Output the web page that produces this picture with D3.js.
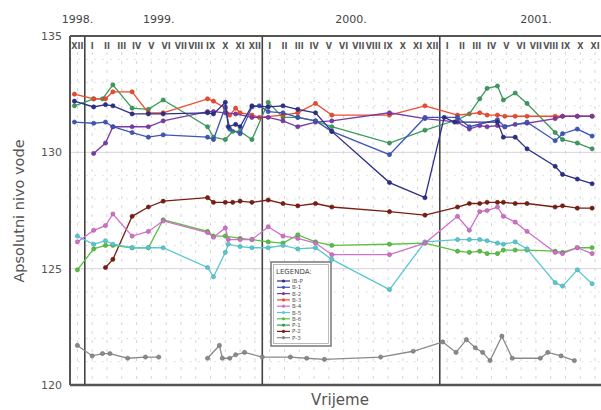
<!DOCTYPE html>
<html><head><meta charset="utf-8">
<script src="https://cdn.jsdelivr.net/npm/d3@7/dist/d3.min.js"></script>
<style>body{margin:0;background:#fff}svg{display:block}text{font-family:"DejaVu Sans",Verdana,sans-serif}</style>
</head><body><svg id="c" width="601" height="410"></svg>
<script>
// time axis: months elapsed since 1 Dec 1998
const years = [{label:"1998.", t:0.5},{label:"1999.", t:6.0},{label:"2000.", t:19.0},{label:"2001.", t:31.5}];
const yearStarts = [1, 13, 25];
const monthLabels = ["XII","I","II","III","IV","V","VI","VII","VIII","IX","X","XI","XII","I","II","III","IV","V","VI","VII","VIII","IX","X","XI","XII","I","II","III","IV","V","VI","VII","VIII","IX","X","XI"];
const yTicks = [120,125,130,135];

const redT = [0.3,1.6,2.4,2.9,4.2,5.3,6.3,9.3,9.7,10.5,10.8,11.2,11.5,12.3,12.8,14.4,15.4,16.6,17.7,21.6,24.0,26.2,27.7,28.2,28.9,29.4,30.1,30.9,32.8,33.3,34.3,35.3];
const redV = [132.5,132.3,132.3,132.6,132.6,131.7,131.7,132.3,132.2,131.9,131.6,131.9,131.7,131.6,131.5,131.6,131.7,132.1,131.6,131.6,132.0,131.6,131.7,131.6,131.6,131.55,131.55,131.55,131.55,131.55,131.55,131.55];

const greenT = [0.3,1.6,2.2,2.9,4.2,5.3,6.3,9.3,9.7,10.5,11.0,11.5,12.3,13.4,14.4,15.4,16.6,17.7,21.6,24.0,26.2,27.0,27.7,28.2,28.9,29.3,30.1,30.9,32.8,33.3,34.3,35.3];
const greenV = [132.0,132.3,132.3,132.9,131.9,131.85,132.25,131.1,130.65,130.55,130.9,130.9,130.55,132.15,131.5,131.5,131.35,131.1,130.4,130.95,131.4,131.65,132.3,132.75,132.85,132.25,132.55,132.1,130.85,130.55,130.4,130.15];

const navyT = [0.3,1.6,2.4,2.9,4.2,5.3,6.3,9.3,9.7,10.5,10.7,11.2,11.5,12.3,13.4,14.4,15.4,16.6,17.7,21.6,24.0,25.3,26.0,28.9,29.3,30.1,30.9,32.8,33.3,34.3,35.3];
const navyV = [132.2,131.95,132.05,132.0,131.65,131.65,131.65,131.7,131.65,132.15,131.1,131.2,131.1,132.0,131.95,132.0,131.85,131.7,130.9,128.7,128.05,131.5,131.3,131.3,130.65,130.65,130.15,129.4,129.05,128.85,128.65];

const blueT = [0.3,1.6,2.4,2.9,4.2,5.3,6.3,9.3,9.7,10.5,10.8,11.5,12.3,12.8,13.4,14.4,15.4,16.6,17.7,21.6,24.0,26.2,27.0,28.9,29.4,30.9,32.8,33.3,34.3,35.3];
const blueV = [131.3,131.25,131.3,131.1,130.85,130.65,130.75,130.65,130.55,131.95,131.0,130.8,131.95,132.0,131.75,131.7,131.5,131.35,130.9,129.9,131.5,131.5,131.1,131.4,131.1,131.3,130.5,130.8,131.0,130.7];

const purpleT = [1.6,2.4,2.9,4.2,5.3,6.3,9.3,9.7,10.5,11.2,12.3,13.4,14.4,15.4,16.6,17.7,21.6,24.0,26.2,27.0,27.7,28.2,28.9,29.4,30.1,30.9,32.8,33.3,34.3,35.3];
const purpleV = [129.95,130.4,131.1,131.1,131.1,131.35,131.75,131.75,131.7,131.65,131.5,131.5,131.35,131.1,131.3,131.35,131.7,131.45,131.3,131.0,131.15,131.1,131.15,131.1,131.2,131.25,131.45,131.55,131.55,131.55];

const brownT = [2.4,2.9,4.2,5.3,6.3,9.3,9.7,10.5,11.0,11.5,12.3,13.4,14.4,15.4,16.6,17.7,21.6,24.0,26.2,27.0,27.7,28.2,28.9,29.3,30.1,30.9,32.8,33.3,34.3,35.3];
const brownV = [125.05,125.4,127.25,127.65,127.9,128.05,127.85,127.85,127.85,127.9,127.85,127.95,127.8,127.7,127.8,127.65,127.45,127.3,127.65,127.8,127.8,127.85,127.85,127.85,127.8,127.8,127.65,127.7,127.6,127.6];

const magentaT = [0.5,1.6,2.4,2.9,4.2,5.3,6.3,9.3,9.7,10.5,10.7,11.5,12.3,13.4,14.4,15.4,16.6,17.7,21.6,24.0,26.2,27.0,27.7,28.2,28.9,29.3,30.1,30.9,32.8,33.3,34.3,35.3];
const magentaV = [126.15,126.65,126.85,127.35,126.4,126.6,127.05,126.55,126.35,126.75,126.25,126.25,126.25,126.8,126.4,126.3,126.1,125.6,125.6,126.1,127.25,126.65,127.45,127.5,127.65,127.25,127.0,126.6,125.7,125.65,125.9,125.65];

const limeT = [0.5,1.6,2.4,2.9,4.2,5.3,6.3,9.3,9.7,10.5,11.5,12.3,13.4,14.4,15.4,16.6,17.7,21.6,24.0,26.2,27.0,27.7,28.2,28.9,29.3,30.1,30.9,32.8,33.3,34.3,35.3];
const limeV = [124.95,125.85,126.0,126.0,125.9,125.9,127.1,126.6,126.4,126.4,126.3,126.25,126.15,126.1,126.45,126.15,126.0,126.05,126.1,125.75,125.7,125.75,125.65,125.65,125.8,125.8,125.8,125.75,125.7,125.9,125.9];

const cyanT = [0.5,1.6,2.4,2.9,4.2,5.3,6.3,9.3,9.7,10.5,10.7,11.5,12.3,13.4,14.4,15.4,16.6,17.7,21.6,24.0,26.2,27.0,27.7,28.2,28.9,29.3,30.1,30.9,32.8,33.3,34.3,35.3];
const cyanV = [126.4,126.05,126.2,126.05,125.9,125.9,125.9,125.05,124.65,125.7,126.05,125.95,125.9,125.9,126.0,125.85,125.9,125.4,124.1,126.15,126.25,126.25,126.25,126.2,126.1,126.05,126.15,125.85,124.4,124.25,124.95,124.35];

const grayT = [0.5,1.5,2.2,2.7,3.9,5.1,6.0,7.5,9.3,10.1,10.3,10.8,11.2,11.8,13.0,14.9,16.0,17.2,21.0,23.2,25.2,26.1,26.8,27.4,27.9,28.4,29.2,29.9,31.8,32.3,33.2,34.1];
const grayV = [121.7,121.25,121.35,121.35,121.15,121.2,121.2,null,121.15,121.7,121.15,121.15,121.3,121.4,121.2,121.2,121.15,121.1,121.2,121.45,121.85,121.4,121.95,121.6,121.4,121.05,122.1,121.15,121.15,121.4,121.25,121.05];

const seriesNames = ["IB-P","B-1","B-2","B-3","B-4","B-5","B-6","P-1","P-2","P-3"];
const series = [
  {name:seriesNames[0], color:"#2c2f86", t:navyT, v:navyV},
  {name:seriesNames[1], color:"#3f56b8", t:blueT, v:blueV},
  {name:seriesNames[2], color:"#7b3aa6", t:purpleT, v:purpleV},
  {name:seriesNames[3], color:"#ee4a2c", t:redT, v:redV},
  {name:seriesNames[4], color:"#d070c8", t:magentaT, v:magentaV},
  {name:seriesNames[5], color:"#58c8d0", t:cyanT, v:cyanV},
  {name:seriesNames[6], color:"#58c040", t:limeT, v:limeV},
  {name:seriesNames[7], color:"#3c9a5c", t:greenT, v:greenV},
  {name:seriesNames[8], color:"#7a1e12", t:brownT, v:brownV},
  {name:seriesNames[9], color:"#8a8a8a", t:grayT, v:grayV}
];

const svg = d3.select("#c");
const L=70, R=601, T=36, B=385;
const x = d3.scaleLinear().domain([0,35.9]).range([L,R]);
const y = d3.scaleLinear().domain([120,135]).range([B,T]);

// grid
const g = svg.append("g");
g.selectAll(".hg").data(d3.range(121,135)).join("line")
  .attr("x1",L).attr("x2",R).attr("y1",d=>y(d)).attr("y2",d=>y(d))
  .attr("stroke",d=>d%5===0?"#dcd0dc":"#e2e2e2").attr("stroke-width",1)
  .attr("stroke-dasharray",d=>d%5===0?null:"2,6");
g.selectAll(".vg").data(d3.range(0,36)).join("line")
  .attr("x1",d=>x(d+0.5)).attr("x2",d=>x(d+0.5)).attr("y1",T+16).attr("y2",B)
  .attr("stroke","#d6d6d6").attr("stroke-dasharray","3,6");

// month header
svg.selectAll(".ml").data(monthLabels).join("text")
  .attr("x",(d,i)=>x(i+0.5)).attr("y",T+13).attr("text-anchor","middle")
  .attr("font-size",8).attr("font-weight","bold").attr("fill","#555").text(d=>d);

// years
svg.selectAll(".yl").data(years).join("text")
  .attr("x",d=>x(d.t)).attr("y",23).attr("text-anchor","middle")
  .attr("font-size",11).attr("fill","#444").text(d=>d.label);

// frame
svg.append("line").attr("x1",L).attr("x2",R).attr("y1",T).attr("y2",T).attr("stroke","#555").attr("stroke-width",2);
svg.append("line").attr("x1",L).attr("x2",R).attr("y1",B).attr("y2",B).attr("stroke","#555").attr("stroke-width",2.5);
svg.append("line").attr("x1",L).attr("x2",L).attr("y1",T).attr("y2",B).attr("stroke","#555").attr("stroke-width",2);
svg.selectAll(".yd").data(yearStarts).join("line")
  .attr("x1",d=>x(d)).attr("x2",d=>x(d)).attr("y1",T).attr("y2",B)
  .attr("stroke","#444").attr("stroke-width",1.6);

// y axis
const yAxis = d3.axisLeft(y).tickValues(yTicks).tickSize(0).tickPadding(8);
const ya = svg.append("g").attr("transform",`translate(${L},0)`).call(yAxis);
ya.select(".domain").remove();
ya.selectAll("text").attr("font-size",11).attr("fill","#555").style("font-family","DejaVu Sans, sans-serif");

// titles
svg.append("text").attr("transform","translate(24,211) rotate(-90)").attr("text-anchor","middle")
  .attr("font-size",14.5).attr("fill","#555").text("Apsolutni nivo vode");
svg.append("text").attr("x",340).attr("y",405).attr("text-anchor","middle")
  .attr("font-size",15).attr("fill","#555").text("Vrijeme");

// series
const line = d3.line().defined(d=>d[1]!==null).x(d=>x(d[0])).y(d=>y(d[1]));
series.slice().reverse().forEach(s=>{
  const pts = s.t.map((t,i)=>[t,s.v[i]]);
  svg.append("path").datum(pts).attr("d",line).attr("fill","none").attr("stroke",s.color).attr("stroke-width",1.3);
  svg.append("g").selectAll("circle").data(pts.filter(p=>p[1]!==null)).join("circle")
    .attr("cx",p=>x(p[0])).attr("cy",p=>y(p[1])).attr("r",2.1)
    .attr("fill",s.color).attr("stroke",d3.color(s.color).darker(0.6)).attr("stroke-width",0.6);
});

// legend
const lg = svg.append("g").attr("transform","translate(271,262)");
lg.append("rect").attr("width",60).attr("height",84).attr("fill","#fff").attr("stroke","#777").attr("stroke-width",1.5);
lg.append("rect").attr("x",2.5).attr("y",2.5).attr("width",55).attr("height",79).attr("fill","none").attr("stroke","#aaa").attr("stroke-width",0.8);
lg.append("text").attr("x",5).attr("y",12).attr("font-size",7).attr("fill","#444").text("LEGENDA:");
series.forEach((s,i)=>{
  const yy = 19 + i*6.3;
  lg.append("line").attr("x1",6).attr("x2",19).attr("y1",yy).attr("y2",yy).attr("stroke",s.color).attr("stroke-width",1.2);
  lg.append("circle").attr("cx",12.5).attr("cy",yy).attr("r",1.6).attr("fill",s.color);
  lg.append("text").attr("x",21).attr("y",yy+2).attr("font-size",5.5).attr("fill","#555").text(s.name);
});
</script></body></html>
